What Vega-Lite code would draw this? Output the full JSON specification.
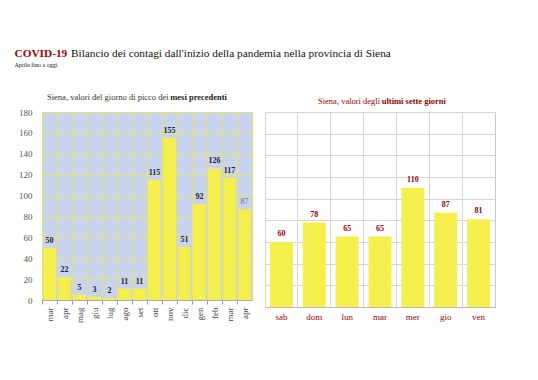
{
  "$schema": "https://vega.github.io/schema/vega-lite/v6.json",
  "background": "white",
  "padding": {"left": 14, "top": 47, "right": 10, "bottom": 5},
  "datasets": {
    "mesi": [
      {"mese": "mar 2020", "valore": 50, "parziale": false},
      {"mese": "apr 2020", "valore": 22, "parziale": false},
      {"mese": "mag 2020", "valore": 5, "parziale": false},
      {"mese": "giu 2020", "valore": 3, "parziale": false},
      {"mese": "lug 2020", "valore": 2, "parziale": false},
      {"mese": "ago 2020", "valore": 11, "parziale": false},
      {"mese": "set 2020", "valore": 11, "parziale": false},
      {"mese": "ott 2020", "valore": 115, "parziale": false},
      {"mese": "nov 2020", "valore": 155, "parziale": false},
      {"mese": "dic 2020", "valore": 51, "parziale": false},
      {"mese": "gen 2021", "valore": 92, "parziale": false},
      {"mese": "feb 2021", "valore": 126, "parziale": false},
      {"mese": "mar 2021", "valore": 117, "parziale": false},
      {"mese": "apr 2021", "valore": 87, "parziale": true}
    ],
    "giorni": [
      {"giorno": "sab", "valore": 60},
      {"giorno": "dom", "valore": 78},
      {"giorno": "lun", "valore": 65},
      {"giorno": "mar", "valore": 65},
      {"giorno": "mer", "valore": 110},
      {"giorno": "gio", "valore": 87},
      {"giorno": "ven", "valore": 81}
    ]
  },
  "title": {
    "text": "COVID-19",
    "subtitle": "\u200b\u00a0\u00a0\u00a0\u00a0\u00a0\u00a0\u00a0\u00a0\u00a0\u00a0\u00a0\u00a0\u00a0\u00a0\u00a0\u00a0\u00a0\u00a0\u00a0\u00a0Bilancio dei contagi dall'inizio della pandemia nella provincia di Siena",
    "anchor": "start",
    "font": "Liberation Serif",
    "fontSize": 11.3,
    "fontWeight": "bold",
    "color": "#a30000",
    "lineHeight": 11.3,
    "subtitleFont": "Liberation Serif",
    "subtitleFontSize": 11.3,
    "subtitleFontWeight": "normal",
    "subtitleColor": "#111111",
    "subtitleLineHeight": 11.3,
    "subtitlePadding": -11.3,
    "offset": 3
  },
  "vconcat": [
    {
      "title": {
        "text": "Aprile fino a oggi",
        "anchor": "start",
        "font": "Liberation Serif",
        "fontSize": 6,
        "fontWeight": "normal",
        "color": "#111111",
        "offset": 24
      },
      "spacing": 11,
      "hconcat": [
        {
          "width": 210,
          "height": 188,
          "title": {
            "text": "Siena, valori del giorno di picco dei",
            "subtitle": "\u200b\u00a0\u00a0\u00a0\u00a0\u00a0\u00a0\u00a0\u00a0\u00a0\u00a0\u00a0\u00a0\u00a0\u00a0\u00a0\u00a0\u00a0\u00a0\u00a0\u00a0\u00a0\u00a0\u00a0\u00a0\u00a0\u00a0\u00a0\u00a0\u00a0\u00a0\u00a0\u00a0\u00a0\u00a0\u00a0\u00a0\u00a0\u00a0\u00a0\u00a0\u00a0\u00a0\u00a0\u00a0\u00a0\u00a0\u00a0\u00a0\u00a0\u00a0\u00a0\u00a0\u00a0\u00a0\u00a0\u00a0\u00a0\u00a0mesi precedenti",
            "anchor": "start",
            "frame": "group",
            "dx": 5,
            "font": "Liberation Serif",
            "fontSize": 8.5,
            "fontWeight": "normal",
            "color": "#333333",
            "lineHeight": 8.5,
            "subtitleFont": "Liberation Serif",
            "subtitleFontSize": 8.5,
            "subtitleFontWeight": "bold",
            "subtitleColor": "#222222",
            "subtitleLineHeight": 8.5,
            "subtitlePadding": -8.5,
            "offset": 7
          },
          "data": {"name": "mesi"},
          "view": {"fill": "#c8d3ee", "stroke": "#e2dd6a"},
          "encoding": {
            "x": {
              "field": "mese",
              "type": "nominal",
              "sort": null,
              "scale": {"paddingInner": 0, "paddingOuter": 0},
              "axis": {
                "title": null,
                "labelAngle": -90,
                "labelExpr": "slice(datum.label, 0, 3)",
                "bandPosition": 0,
                "grid": true,
                "gridColor": "#e6e26c",
                "ticks": true,
                "tickColor": "#999999",
                "tickSize": 4,
                "domainColor": "#aaaaaa",
                "labelFont": "Liberation Serif",
                "labelFontSize": 9,
                "labelColor": "#444444",
                "labelPadding": 3
              }
            },
            "y": {
              "field": "valore",
              "type": "quantitative",
              "scale": {"domain": [0, 180]},
              "axis": {
                "title": null,
                "values": [0, 20, 40, 60, 80, 100, 120, 140, 160, 180],
                "grid": true,
                "gridColor": "#e6e26c",
                "ticks": false,
                "domain": false,
                "labelFont": "Liberation Serif",
                "labelFontSize": 9,
                "labelColor": "#555555",
                "labelPadding": 10,
                "minExtent": 27
              }
            }
          },
          "layer": [
            {"mark": {"type": "bar", "color": "#f4ef4c", "width": {"band": 0.84}}},
            {
              "transform": [{"filter": "!datum.parziale"}],
              "mark": {"type": "text", "dy": -7, "fontWeight": "bold", "fontSize": 8, "font": "Liberation Serif", "color": "#1b1b3a"},
              "encoding": {"text": {"field": "valore", "type": "quantitative"}}
            },
            {
              "transform": [{"filter": "datum.parziale"}],
              "mark": {"type": "text", "dy": -7, "fontWeight": "normal", "fontSize": 8, "font": "Liberation Serif", "color": "#6a7092"},
              "encoding": {"text": {"field": "valore", "type": "quantitative"}}
            }
          ]
        },
        {
          "width": 230,
          "height": 195,
          "title": {
            "text": "Siena, valori degli",
            "subtitle": "\u200b\u00a0\u00a0\u00a0\u00a0\u00a0\u00a0\u00a0\u00a0\u00a0\u00a0\u00a0\u00a0\u00a0\u00a0\u00a0\u00a0\u00a0\u00a0\u00a0\u00a0\u00a0\u00a0\u00a0\u00a0\u00a0\u00a0\u00a0\u00a0\u00a0\u00a0ultimi sette giorni",
            "anchor": "start",
            "frame": "group",
            "dx": 53,
            "font": "Liberation Serif",
            "fontSize": 8.5,
            "fontWeight": "normal",
            "color": "#9a0000",
            "lineHeight": 8.5,
            "subtitleFont": "Liberation Serif",
            "subtitleFontSize": 8.5,
            "subtitleFontWeight": "bold",
            "subtitleColor": "#9a0000",
            "subtitleLineHeight": 8.5,
            "subtitlePadding": -8.5,
            "offset": 7
          },
          "data": {"name": "giorni"},
          "view": {"fill": "white", "stroke": "#c8c8c8"},
          "encoding": {
            "x": {
              "field": "giorno",
              "type": "nominal",
              "sort": null,
              "scale": {"paddingInner": 0, "paddingOuter": 0},
              "axis": {
                "title": null,
                "labelAngle": 0,
                "bandPosition": 0,
                "grid": true,
                "gridColor": "#d6d6d6",
                "ticks": false,
                "domainColor": "#bbbbbb",
                "labelFont": "Liberation Serif",
                "labelFontSize": 9,
                "labelColor": "#9a0000",
                "labelPadding": 5
              }
            },
            "y": {
              "field": "valore",
              "type": "quantitative",
              "scale": {"domain": [0, 180]},
              "axis": {
                "title": null,
                "values": [0, 20, 40, 60, 80, 100, 120, 140, 160, 180],
                "labels": false,
                "ticks": false,
                "domain": false,
                "grid": true,
                "gridColor": "#d6d6d6",
                "minExtent": 0
              }
            }
          },
          "layer": [
            {"mark": {"type": "bar", "color": "#f4ef4c", "width": {"band": 0.7}}},
            {
              "mark": {"type": "text", "dy": -8, "fontWeight": "bold", "fontSize": 8, "font": "Liberation Serif", "color": "#9a0000"},
              "encoding": {"text": {"field": "valore", "type": "quantitative"}}
            }
          ]
        }
      ]
    }
  ],
  "config": {"font": "Liberation Serif"}
}
